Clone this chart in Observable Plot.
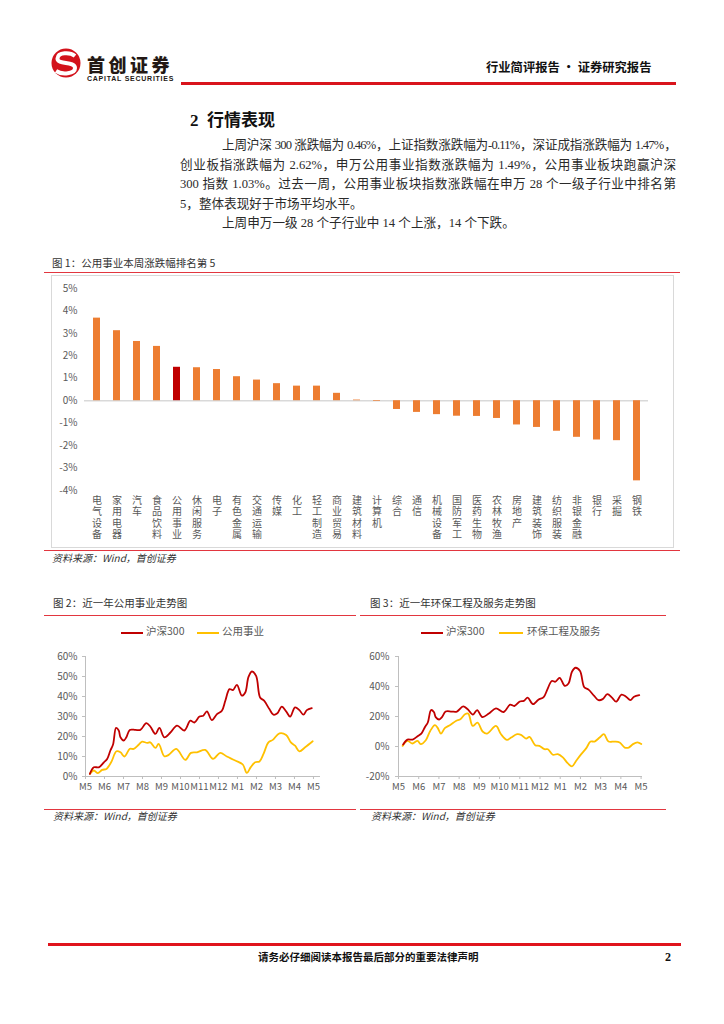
<!DOCTYPE html>
<html><head><meta charset="utf-8">
<script src="https://cdn.jsdelivr.net/npm/d3@7"></script>
<script src="https://cdn.jsdelivr.net/npm/@observablehq/plot@0.6"></script>
<style>
html,body{margin:0;padding:0;background:#fff;}
#page{position:relative;width:724px;height:1024px;overflow:hidden;font-family:"Liberation Serif","Noto Sans CJK SC",serif;color:#222;}
.abs{position:absolute;line-height:1.2;}
.line{position:absolute;white-space:nowrap;}
.body{font-size:12.6px;line-height:19.5px;color:#2a2a2a;}
.just{text-align:justify;text-align-last:justify;}
.figtitle{font-family:"Noto Sans CJK SC",sans-serif;font-size:10.5px;color:#333;}
.src{font-family:"Noto Sans CJK SC",sans-serif;font-size:10px;font-style:italic;color:#333;}
.redl{position:absolute;background:#e2363f;height:1.5px;}
.leg{position:absolute;font-family:"Noto Sans CJK SC",sans-serif;font-size:10.5px;color:#595959;white-space:nowrap;line-height:1.2;}
.seg{position:absolute;height:2px;}
</style></head>
<body><div id="page">
<!-- header -->
<svg class="abs" style="left:50px;top:47px" width="34" height="34">
  <circle cx="16" cy="16" r="14.5" fill="#d3121b"/>
  <path d="M25 9 C20 5,8 5,7.5 11.5 C7 18,25 14,25 21 C25 27,12 28,6 24" stroke="#fff" stroke-width="4" fill="none"/>
</svg>
<div class="abs" style="left:87px;top:55px;font-family:'Noto Sans CJK SC';font-weight:900;font-size:18px;line-height:19px;letter-spacing:3.5px;color:#231815;white-space:nowrap;">首创证券</div>
<div class="abs" style="left:87px;top:74.5px;font-family:'Liberation Sans';font-weight:bold;font-size:7px;line-height:7px;letter-spacing:0.75px;color:#231815;white-space:nowrap;">CAPITAL SECURITIES</div>
<div class="abs" style="left:181px;top:82px;width:495px;height:2.5px;background:#d9141c;"></div>
<div class="abs" style="left:486px;top:60px;font-family:'Noto Sans CJK SC';font-weight:bold;font-size:12.3px;color:#111;white-space:nowrap;">行业简评报告 · 证券研究报告</div>

<!-- section -->
<div class="abs" style="left:190px;top:111px;font-family:'Liberation Serif','Noto Sans CJK SC';font-weight:bold;font-size:17px;color:#111;white-space:nowrap;">2&nbsp; 行情表现</div>
<div class="line body just" style="left:222px;top:136px;width:454px;letter-spacing:-0.8px;">上周沪深 300 涨跌幅为 0.46%，上证指数涨跌幅为-0.11%，深证成指涨跌幅为 1.47%，</div>
<div class="line body just" style="left:180px;top:155.5px;width:496px;">创业板指涨跌幅为 2.62%，申万公用事业指数涨跌幅为 1.49%，公用事业板块跑赢沪深</div>
<div class="line body just" style="left:180px;top:175px;width:496px;">300 指数 1.03%。过去一周，公用事业板块指数涨跌幅在申万 28 个一级子行业中排名第</div>
<div class="line body" style="left:180px;top:194.5px;">5，整体表现好于市场平均水平。</div>
<div class="line body" style="left:222px;top:213.5px;">上周申万一级 28 个子行业中 14 个上涨，14 个下跌。</div>

<!-- figure 1 -->
<div class="abs figtitle" style="left:52px;top:257px;">图 1：公用事业本周涨跌幅排名第 5</div>
<div class="redl" style="left:44px;top:271.5px;width:636px;"></div>
<div class="abs" style="left:51px;top:275px;width:621px;height:271px;border:1px solid #d9d9d9;"></div>
<div id="c1" class="abs" style="left:50px;top:274px;"></div>
<div class="redl" style="left:44px;top:549.5px;width:636px;"></div>
<div class="abs src" style="left:52px;top:552px;">资料来源：Wind，首创证券</div>

<!-- figure 2 -->
<div class="abs figtitle" style="left:53px;top:597px;">图 2：近一年公用事业走势图</div>
<div class="redl" style="left:44px;top:614.5px;width:312px;"></div>
<div class="seg" style="left:121px;top:632px;width:22px;background:#c00000;"></div>
<div class="leg" style="left:146px;top:625px;">沪深300</div>
<div class="seg" style="left:197px;top:632px;width:22px;background:#ffc000;"></div>
<div class="leg" style="left:222px;top:625px;">公用事业</div>
<div id="c2" class="abs" style="left:44px;top:640px;"></div>
<div class="redl" style="left:44px;top:808.5px;width:312px;"></div>
<div class="abs src" style="left:53px;top:810px;">资料来源：Wind，首创证券</div>

<!-- figure 3 -->
<div class="abs figtitle" style="left:370px;top:597px;">图 3：近一年环保工程及服务走势图</div>
<div class="redl" style="left:360px;top:614.5px;width:306px;"></div>
<div class="seg" style="left:421px;top:632px;width:22px;background:#c00000;"></div>
<div class="leg" style="left:446px;top:625px;">沪深300</div>
<div class="seg" style="left:499px;top:632px;width:24px;background:#ffc000;"></div>
<div class="leg" style="left:527px;top:625px;">环保工程及服务</div>
<div id="c3" class="abs" style="left:360px;top:640px;"></div>
<div class="redl" style="left:360px;top:808.5px;width:306px;"></div>
<div class="abs src" style="left:371px;top:810px;">资料来源：Wind，首创证券</div>

<!-- footer -->
<div class="abs" style="left:48px;top:943px;width:633px;height:3px;background:#e0141c;"></div>
<div class="abs" style="left:258px;top:951px;font-family:'Noto Sans CJK SC';font-weight:bold;font-size:10.5px;color:#111;white-space:nowrap;">请务必仔细阅读本报告最后部分的重要法律声明</div>
<div class="abs" style="left:665px;top:950px;font-family:'Liberation Serif';font-weight:bold;font-size:12px;color:#111;">2</div>
</div>
<script>
// ---------- Figure 1 data ----------
const sectors = ["电气设备","家用电器","汽车","食品饮料","公用事业","休闲服务","电子","有色金属","交通运输","传媒","化工","轻工制造","商业贸易","建筑材料","计算机","综合","通信","机械设备","国防军工","医药生物","农林牧渔","房地产","建筑装饰","纺织服装","非银金融","银行","采掘","钢铁"];
const weeklyChange = [3.68,3.12,2.64,2.42,1.49,1.47,1.39,1.07,0.92,0.76,0.65,0.65,0.33,0.03,-0.03,-0.39,-0.52,-0.62,-0.69,-0.70,-0.79,-1.08,-1.19,-1.36,-1.63,-1.75,-1.78,-3.57];
const highlight = "公用事业";
const yTicks1 = [-4,-3,-2,-1,0,1,2,3,4,5];

// ---------- Figure 2/3 data (month index from M5 = 0) ----------
const monthLabels = ["M5","M6","M7","M8","M9","M10","M11","M12","M1","M2","M3","M4","M5"];
const hs300T = [0.23,0.44,0.7,0.96,1.14,1.31,1.45,1.61,1.75,1.84,2.01,2.15,2.33,2.63,2.89,3.2,3.41,3.68,3.89,4.15,4.47,4.82,5.2,5.52,5.73,6.0,6.2,6.39,6.65,6.92,7.18,7.36,7.58,7.76,7.97,8.23,8.41,8.58,8.76,8.98,9.19,9.4,9.68,9.89,10.1,10.33,10.56,10.77,11.03,11.26,11.47,11.65,11.91];
const hs300V = [1.3,4.6,4.6,7,8.8,13,16,24.3,23,19.6,18,19.6,23.3,23.3,23.3,26.7,25,21.3,24.3,19.6,22,25.4,23,27.9,27,30,30.4,32.6,28.2,31.2,32.9,37.9,43.7,43.2,45.8,40.4,42,49.8,52.5,50.3,39.5,37.9,33.7,30.9,31.6,34.9,32.6,29.9,34.6,33.2,30.9,33.2,34.2];
const utilT = [0.23,0.44,0.65,0.88,1.1,1.35,1.63,1.84,2.05,2.33,2.54,2.8,2.98,3.24,3.41,3.68,3.85,4.15,4.38,4.78,5.25,5.55,5.87,6.3,6.71,7.09,7.44,7.88,8.28,8.49,8.7,8.93,9.16,9.37,9.63,9.86,10.21,10.56,10.81,11.03,11.26,11.56,11.96];
const utilV = [1.3,3,1.7,3.3,3.8,7.1,12.6,12.1,10,13.8,13.8,15.9,17.4,16.8,17.1,14.3,16.3,10.1,10.8,13.8,8.3,11.8,12.1,13.3,8.8,11.8,10,8,6,1.8,4.7,7.1,7.5,11.3,17.1,18.3,21.6,20.8,17.1,15.4,12.6,14.6,17.6];
const envT = [0.2,0.44,0.69,0.94,1.1,1.35,1.57,1.8,1.93,2.1,2.29,2.56,2.84,3.06,3.29,3.45,3.67,3.91,4.16,4.38,4.82,5.07,5.37,5.57,5.87,6.06,6.31,6.48,6.76,6.97,7.22,7.39,7.63,7.88,8.13,8.38,8.58,8.79,9.04,9.29,9.5,9.7,9.95,10.16,10.39,10.69,10.94,11.19,11.39,11.6,11.82,12.01];
const envV = [0.4,3.8,2,3.8,1.6,4.2,10.4,14.2,12.6,8.6,12.2,14.4,17,18.2,21.5,21.9,13.7,15.9,10,8.6,13.7,8.2,4.4,6,8.2,7.8,5.3,6.4,0.9,0.4,-1.8,-1.8,-5.5,-5.1,-7.3,-11.3,-13.3,-9.5,-5.1,-1.1,3.3,3.3,6,8.2,3.3,3.3,2.7,-0.7,-0.7,1.6,2.7,1.6];

const RED = "#c00000", ORANGE = "#ed7d31", YELLOW = "#ffc000", GRAY = "#595959";
const font = '"Noto Sans CJK SC", sans-serif';

// ---------- Figure 1 ----------
const bars = sectors.map((name, i) => ({name, value: weeklyChange[i]}));
const c1 = Plot.plot({
  width: 622, height: 274,
  marginLeft: 34, marginRight: 24, marginTop: 14, marginBottom: 58,
  style: {fontFamily: font, fontSize: "10px", color: GRAY, background: "transparent"},
  x: {domain: sectors, paddingInner: 0.65, paddingOuter: 0.33, axis: null},
  y: {domain: [-4, 5], axis: null},
  marks: [
    Plot.ruleY([0], {stroke: "#d9d9d9", strokeWidth: 1.5}),
    Plot.barY(bars, {x: "name", y: "value", fill: d => d.name === highlight ? RED : ORANGE}),
    Plot.axisY({ticks: yTicks1, tickFormat: d => d + "%", tickSize: 0, tickPadding: 7, label: null, fill: GRAY, fontSize: 10}),
    Plot.axisX({tickSize: 0, tickPadding: 5, label: null, tickFormat: d => d.split("").join("\n"), lineHeight: 1.15, fontSize: 10, fill: GRAY})
  ]
});
document.getElementById("c1").appendChild(c1);

// ---------- Figures 2 & 3 ----------
function linesChart(opts) {
  const s1 = opts.t1.map((t, i) => ({t, v: opts.v1[i]}));
  const s2 = opts.t2.map((t, i) => ({t, v: opts.v2[i]}));
  return Plot.plot({
    width: opts.width, height: 160,
    marginLeft: opts.ml, marginRight: opts.mr, marginTop: 16, marginBottom: 24,
    style: {fontFamily: font, fontSize: "10px", color: GRAY, background: "transparent"},
    x: {domain: [0, opts.xmax], axis: null},
    y: {domain: opts.ydom, axis: null},
    marks: [
      Plot.ruleX([0], {stroke: "#bfbfbf"}),
      Plot.ruleY([opts.ydom[0]], {stroke: "#bfbfbf"}),
      Plot.line(s2, {x: "t", y: "v", stroke: YELLOW, strokeWidth: 1.8, curve: "catmull-rom"}),
      Plot.line(s1, {x: "t", y: "v", stroke: RED, strokeWidth: 1.8, curve: "catmull-rom"}),
      Plot.axisY({ticks: opts.yticks, tickFormat: d => d + "%", tickSize: 3, tickPadding: opts.yp, stroke: "#bfbfbf", label: null, fill: GRAY}),
      Plot.axisX({ticks: d3.range(monthLabels.length), tickFormat: i => monthLabels[i], tickSize: 3, tickPadding: 4, stroke: "#bfbfbf", label: null, fill: GRAY, fontSize: 9.5})
    ]
  });
}
document.getElementById("c2").appendChild(linesChart({
  width: 311, ml: 41, mr: 35, xmax: 12.37, ydom: [0, 60], yticks: [0,10,20,30,40,50,60], yp: 5,
  t1: hs300T, v1: hs300V, t2: utilT, v2: utilV
}));
document.getElementById("c3").appendChild(linesChart({
  width: 306, ml: 38, mr: 24, xmax: 12.07, ydom: [-20, 60], yticks: [-20,0,20,40,60], yp: 6,
  t1: hs300T, v1: hs300V, t2: envT, v2: envV
}));
</script>
</body></html>
